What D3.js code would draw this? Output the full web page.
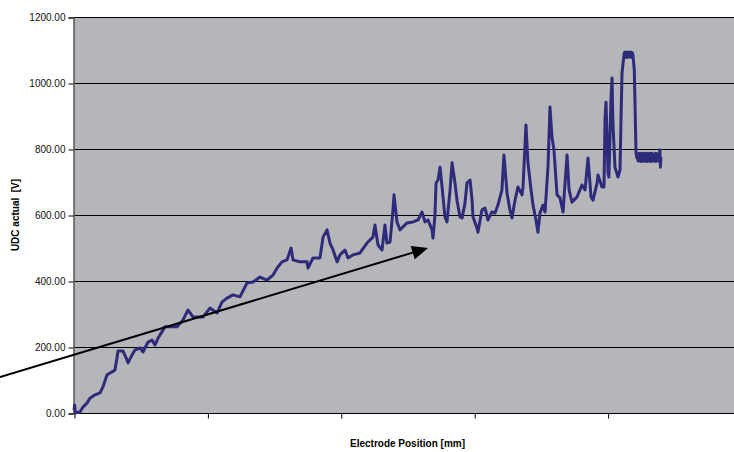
<!DOCTYPE html>
<html>
<head>
<meta charset="utf-8">
<script src="https://cdn.jsdelivr.net/npm/d3@7"></script>
<style>
  html, body { margin: 0; padding: 0; background: #ffffff; }
  svg { display: block; font-family: "Liberation Sans", Arial, sans-serif; }
</style>
</head>
<body>
<svg id="chart" width="734" height="452"></svg>
<script>
// ---- data ----
const positions = [
  0,0.5,1,4.5,6.7,9.7,12.0,15.7,19.5,21.7,24.7,27.0,30.7,32.2,33.0,36.7,39.7,40.5,43.5,45.7,
  49.5,51.7,55.5,58.5,60.7,63.0,68.2,72.0,77.2,81.7,85.5,89.2,96.7,101.9,107.2,110.9,114.7,119.2,124.4,129.7,
  134.2,139.4,144.7,149.2,152.2,155.9,159.7,162.7,164.2,169.4,174.7,175.4,179.2,184.4,186.7,189.7,191.9,194.2,197.2,199.4,
  203.1,205.4,209.1,214.4,219.6,224.1,225.6,227.9,230.9,233.1,234.6,236.9,239.1,239.9,242.1,244.4,249.6,254.1,257.9,260.9,
  263.1,265.4,268.4,269.1,270.6,271.4,272.9,274.4,275.9,278.1,279.6,281.9,283.4,285.6,287.1,289.4,290.9,293.1,294.6,296.9,
  298.4,299.1,302.1,302.8,305.8,308.1,310.3,313.3,315.6,317.8,320.8,322.3,324.6,326.8,328.3,330.6,332.8,335.8,336.6,338.8,
  340.3,342.6,344.1,346.3,347.8,349.3,351.6,353.1,355.3,356.8,358.3,359.8,362.1,364.3,366.6,368.1,369.6,371.1,373.3,377.1,
  380.8,383.1,385.3,387.6,389.1,392.1,392.8,395.8,397.3,398.1,398.8,399.6,400.3,401.0,402.5,403.3,404.0,405.5,407.8,409.3,
  410.0,410.8,412.0,412.5,413.0,413.4,413.8,414.2,414.5,414.9,415.3,415.6,416.0,416.4,416.8,417.1,417.5,417.9,418.3,418.6,
  419.0,420.0,420.5,421.3,422.0,
  422.4,422.8,423.1,423.5,423.9,424.3,424.6,425.0,425.4,425.8,426.1,426.5,426.9,427.3,427.6,428.0,428.4,428.8,429.1,429.5,
  429.9,430.3,430.6,431.0,431.4,431.8,432.1,432.5,432.9,433.3,433.6,434.0,434.4,434.8,435.1,435.5,435.9,436.3,436.6,437.0,
  437.4,437.8,438.1,438.5,438.9,439.2,439.6,440.0
];
const udc = [
  9,24,0,3,18,30,45,55,61,79,115,121,130,167,188,188,161,152,176,191,
  197,185,215,221,206,227,261,261,261,282,312,291,291,318,303,336,348,358,352,394,
  397,412,403,418,439,458,464,500,464,458,458,439,470,470,533,555,515,494,458,479,
  494,470,479,485,515,533,570,509,494,570,515,518,615,661,579,555,576,579,585,609,
  579,585,555,530,600,697,706,745,685,594,579,676,758,697,645,594,591,636,697,706,
  645,594,561,548,615,621,585,609,606,630,676,782,667,615,591,645,685,661,685,873,
  758,676,630,585,548,606,630,609,745,927,836,797,661,652,609,697,782,676,639,655,
  691,676,773,655,645,697,721,685,685,894,942,836,727,715,948,1015,879,745,715,736,
  879,1030,1075,1092,1078,1094,1080,1090,1077,1093,1081,1091,1079,1094,1082,1090,1078,1093,1080,1091,
  1085,1040,948,788,773,
  786,764,785,766,787,763,784,765,786,762,785,766,787,764,784,763,786,765,785,762,
  787,766,784,763,786,765,785,762,787,764,786,766,784,763,785,765,787,762,786,764,
  785,766,784,763,787,797,745,775
];
const yTickValues = [0, 200, 400, 600, 800, 1000, 1200];
const xTickValues = [0, 100, 200, 300, 400, 500];
const arrowStart = [-55.5, 109];
const arrowEnd = [265.4, 500];
const xTitle = "Electrode Position [mm]";
const yTitle = "UDC actual  [V]";

// ---- layout ----
const svg = d3.select("#chart");
const pL = 74, pR = 741, pT = 17, pB = 413;

const x = d3.scaleLinear().domain([0, 500]).range([pL, pR]);
const y = d3.scaleLinear().domain([0, 1200]).range([pB, pT]);

// plot background
svg.append("rect")
  .attr("x", pL).attr("y", pT)
  .attr("width", pR - pL).attr("height", pB - pT)
  .attr("fill", "#b5b6ba");

// horizontal gridlines
svg.append("g").selectAll("line")
  .data(yTickValues.filter(v => v > 0))
  .join("line")
  .attr("x1", pL).attr("x2", pR)
  .attr("y1", d => Math.round(y(d)) + 0.5).attr("y2", d => Math.round(y(d)) + 0.5)
  .attr("stroke", "#000").attr("stroke-width", 1);

// y axis
const yAxis = d3.axisLeft(y).tickValues(yTickValues).tickSize(5).tickPadding(3)
  .tickFormat(d => d3.format(".2f")(d));
const gy = svg.append("g").attr("transform", `translate(${pL - 0.5},0.5)`).call(yAxis);
gy.select(".domain").attr("stroke", "#555").attr("stroke-width", 1.5);
gy.selectAll(".tick line").attr("stroke", "#000");
gy.selectAll(".tick text").attr("font-size", 10).attr("fill", "#111")
  .attr("font-family", "'Liberation Sans', Arial, sans-serif");

// x axis
const xAxis = d3.axisBottom(x).tickValues(xTickValues).tickSize(5).tickFormat("");
const gx = svg.append("g").attr("transform", `translate(0.5,${pB + 0.5})`).call(xAxis);
gx.select(".domain").attr("stroke", "#000").attr("stroke-width", 1.2)
  .attr("d", `M${pL - 0.5},0H${pR}`);
gx.selectAll(".tick line").attr("stroke", "#000");

// data line
const line = d3.line().x((d, i) => x(positions[i])).y(d => y(d));
svg.append("path")
  .datum(udc)
  .attr("d", line)
  .attr("fill", "none")
  .attr("stroke", "#2f2b7b")
  .attr("stroke-width", 3)
  .attr("stroke-linejoin", "round");

// arrow annotation
const ax0 = x(arrowStart[0]), ay0 = y(arrowStart[1]);
const ax1 = x(arrowEnd[0]), ay1 = y(arrowEnd[1]);
const ang = Math.atan2(ay1 - ay0, ax1 - ax0);
const headLen = 16, headHalf = 7;
const bx = ax1 - headLen * Math.cos(ang), by = ay1 - headLen * Math.sin(ang);
svg.append("line")
  .attr("x1", ax0).attr("y1", ay0).attr("x2", bx).attr("y2", by)
  .attr("stroke", "#000").attr("stroke-width", 2);
svg.append("polygon")
  .attr("points", [
    [ax1, ay1],
    [bx + headHalf * Math.sin(ang), by - headHalf * Math.cos(ang)],
    [bx - headHalf * Math.sin(ang), by + headHalf * Math.cos(ang)]
  ].map(p => p.join(",")).join(" "))
  .attr("fill", "#000");

// titles
svg.append("text")
  .attr("x", (pL + pR) / 2).attr("y", 447)
  .attr("text-anchor", "middle")
  .attr("font-size", 10).attr("font-weight", "bold")
  .text(xTitle);
svg.append("text")
  .attr("transform", `translate(19,${(pT + pB) / 2}) rotate(-90)`)
  .attr("text-anchor", "middle")
  .attr("font-size", 10).attr("font-weight", "bold")
  .style("white-space", "pre")
  .text(yTitle);
</script>
</body>
</html>
